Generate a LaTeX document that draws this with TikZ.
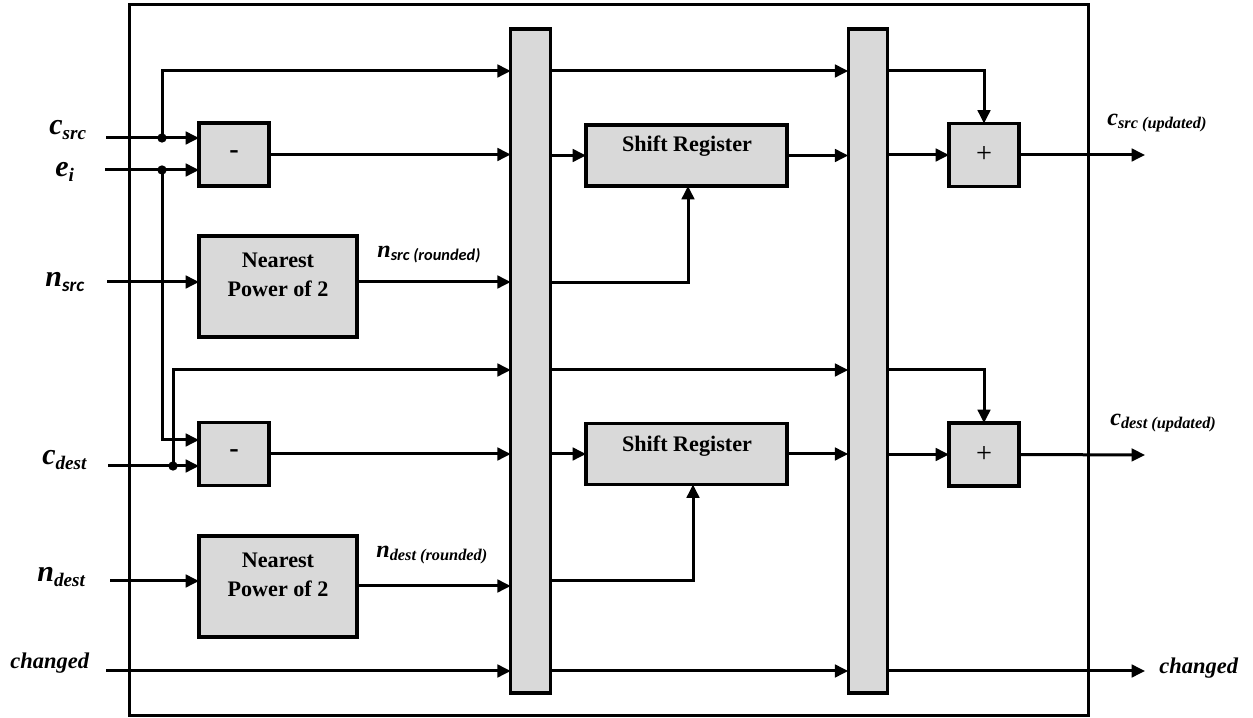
\documentclass[tikz,border=0pt]{standalone}
\usepackage{fontspec}
\setmainfont{Liberation Serif}
\newfontfamily\calib{Carlito}
\usetikzlibrary{arrows.meta,calc}
\definecolor{boxgray}{HTML}{D9D9D9}
\newcommand\lblmain[1]{{\fontsize{18}{18}\selectfont\bfseries\itshape #1}}
\newcommand\lblsub[1]{\raisebox{-2.6pt}{\fontsize{11.5}{11.5}\selectfont\bfseries\itshape #1}}
\newcommand\lblmid[1]{{\fontsize{14.5}{14.5}\selectfont\bfseries\itshape #1}}
\newcommand\lblsmall[1]{\raisebox{-1.5pt}{\fontsize{9.8}{9.8}\selectfont\bfseries\itshape #1}}
\begin{document}
\begin{tikzpicture}[x=0.6pt,y=-0.6pt,
  conn/.style={line width=1.8pt},
  arr/.style={conn,-{Triangle[length=8pt,width=7.5pt]}},
  blk/.style={draw,line width=2pt,fill=boxgray,inner sep=0pt,outer sep=0pt},
  opbox/.style={blk,minimum width=42pt,minimum height=37.8pt,font=\fontsize{17}{17}\selectfont\bfseries},
  npbox/.style={blk,minimum width=94.8pt,minimum height=60.6pt},
  srbox/.style={blk,minimum width=120.6pt,minimum height=36.6pt},
  barbox/.style={blk,minimum width=23.7pt,minimum height=398.4pt},
  boxtxt/.style={inner sep=0pt,align=center,font=\fontsize{13.3}{17.4}\selectfont\bfseries},
  lbl/.style={inner sep=0pt,anchor=base west},
  dot/.style={circle,fill=black,inner sep=0pt,minimum size=5.6pt}
]
\useasboundingbox (0,0) rectangle (1253,718);
\node[draw,line width=1.8pt,inner sep=0pt,outer sep=0pt,minimum width=575.4pt,minimum height=426.6pt] (frame) at (608.5,360.5) {};

% blocks
\node[opbox] (m1) at (234,154.5) {-};
\node[opbox] (m2) at (234,454) {-};
\node[npbox] (np1) at (278,286.5) {};
\node[npbox] (np2) at (278,586.5) {};
\node[barbox] (bar1) at (530.5,361) {};
\node[barbox] (bar2) at (868,361) {};
\node[srbox] (sr1) at (686.5,155.5) {};
\node[srbox] (sr2) at (686.5,454) {};
\node[opbox,font=\fontsize{17}{17}\selectfont] (p1) at (984,155) {+};
\node[opbox,font=\fontsize{17}{17}\selectfont] (p2) at (984,454.5) {+};

\node[boxtxt] (np1t) at (278,275) {Nearest\\Power of 2};
\node[boxtxt] (np2t) at (278,575) {Nearest\\Power of 2};
\node[boxtxt] (sr1t) at (687,146) {Shift Register};
\node[boxtxt] (sr2t) at (687,446) {Shift Register};

% input / output points
\coordinate (csrcS) at (106,138);
\coordinate (eiS) at (105,170);
\coordinate (nsrcS) at (107,282);
\coordinate (cdestS) at (108,466);
\coordinate (ndestS) at (110,581);
\coordinate (chS) at (106,671);
\coordinate (o1) at (1145,155);
\coordinate (o2) at (1145,455);
\coordinate (o3) at (1145,671);

% junctions
\node[dot] (j1) at (162,138) {};
\node[dot] (j2) at (162,170) {};
\node[dot] (j3) at (173,466) {};

% left side connectors
\draw[arr] (csrcS) -- (m1.west |- csrcS);
\draw[arr] (eiS) -- (m1.west |- eiS);
\draw[arr] (j1.center) |- (bar1.west |- 0,71);
\draw[arr] (j2.center) |- (m2.west |- 0,440);
\draw[arr] (nsrcS) -- (np1.west |- nsrcS);
\draw[arr] (cdestS) -- (m2.west |- cdestS);
\draw[arr] (j3.center) |- (bar1.west |- 0,370);
\draw[arr] (ndestS) -- (np2.west |- ndestS);
\draw[arr] (chS) -- (bar1.west |- chS);
\draw[arr] (m1.east) -- (bar1.west |- m1.east);
\draw[arr] (np1.east |- nsrcS) -- (bar1.west |- nsrcS);
\draw[arr] (m2.east) -- (bar1.west |- m2.east);
\draw[arr] (np2.east |- 0,586) -- (bar1.west |- 0,586);

% middle connectors
\draw[arr] (bar1.east |- 0,71) -- (bar2.west |- 0,71);
\draw[arr] (bar1.east |- sr1.west) -- (sr1.west);
\draw[arr] (sr1.east) -- (bar2.west |- sr1.east);
\draw[arr] (bar1.east |- 0,283) -| ([xshift=0.9pt]sr1.south);
\draw[arr] (bar1.east |- 0,370) -- (bar2.west |- 0,370);
\draw[arr] (bar1.east |- sr2.west) -- (sr2.west);
\draw[arr] (sr2.east) -- (bar2.west |- sr2.east);
\draw[arr] (bar1.east |- 0,581) -| ([xshift=3.9pt]sr2.south);
\draw[arr] (bar1.east |- chS) -- (bar2.west |- chS);

% right connectors
\draw[arr] (bar2.east |- 0,71) -| (p1.north);
\draw[arr] (bar2.east |- p1.west) -- (p1.west);
\draw[arr] (p1.east) -- (o1);
\draw[arr] (bar2.east |- 0,370) -| (p2.north);
\draw[arr] (bar2.east |- p2.west) -- (p2.west);
\draw[arr] (p2.east) -- (o2);
\draw[arr] (bar2.east |- chS) -- (o3);

% labels
\node[lbl] (Lcsrc) at (49,135) {\lblmain{c}\lblsub{src}};
\node[lbl] (Lei) at (55,177) {\lblmain{e}\lblsub{i}};
\node[lbl] (Lnsrc) at (45,287) {\lblmain{n}\lblsub{\calib src}};
\node[lbl] (Lcdest) at (42,465) {\lblmain{c}\lblsub{dest}};
\node[lbl] (Lndest) at (37,582) {\lblmain{n}\lblsub{dest}};
\node[lbl] (Lch) at (10,669) {\fontsize{13.5}{13.5}\selectfont\bfseries\itshape changed};
\node[lbl] (Lch2) at (1159,674) {\fontsize{13.5}{13.5}\selectfont\bfseries\itshape changed};
\node[lbl] (Lnsrcr) at (377,258) {\lblmid{n}\lblsmall{\calib src (rounded)}};
\node[lbl] (Lndestr) at (376,558) {\lblmid{n}\lblsmall{dest (rounded)}};
\node[lbl] (Lcsrcu) at (1107,126) {\lblmid{c}\lblsmall{src (updated)}};
\node[lbl] (Lcdestu) at (1110,426) {\lblmid{c}\lblsmall{dest (updated)}};
\end{tikzpicture}
\end{document}
